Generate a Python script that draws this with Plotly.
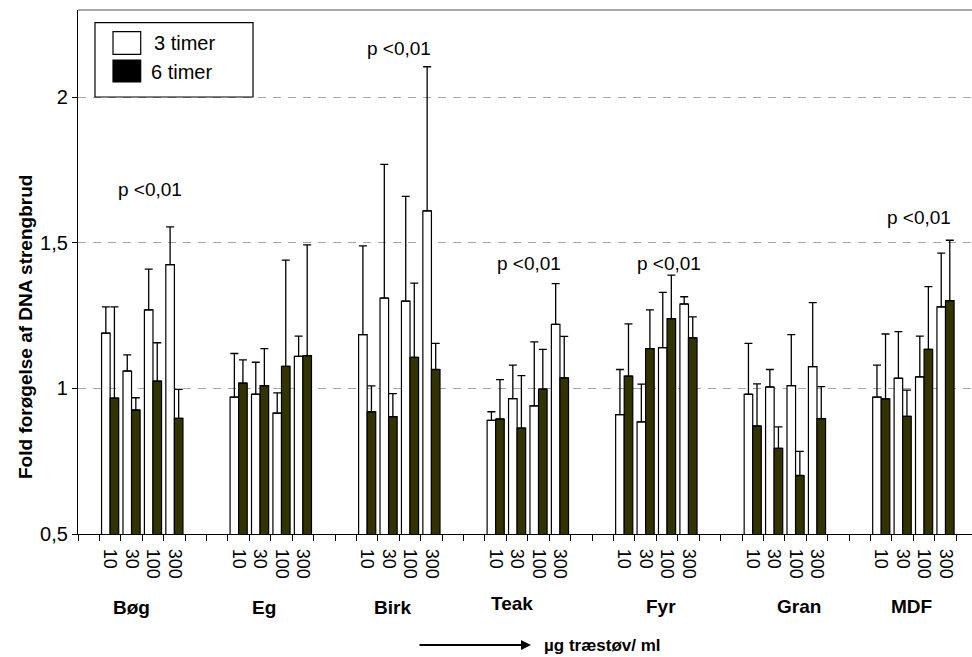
import plotly.graph_objects as go

# ---------------- data ----------------
woods = ["Bøg", "Eg", "Birk", "Teak", "Fyr", "Gran", "MDF"]
concs = ["10", "30", "100", "300"]

# 3 timer (white bars): mean fold increase and upper error
mean_3h = [1.19, 1.06, 1.27, 1.425,
           0.97, 0.98, 0.915, 1.11,
           1.185, 1.31, 1.30, 1.61,
           0.89, 0.965, 0.94, 1.22,
           0.91, 0.885, 1.14, 1.29,
           0.98, 1.005, 1.01, 1.075,
           0.97, 1.035, 1.04, 1.28]
err_3h = [0.09, 0.055, 0.14, 0.13,
          0.15, 0.11, 0.07, 0.07,
          0.305, 0.46, 0.36, 0.495,
          0.03, 0.115, 0.22, 0.14,
          0.155, 0.13, 0.19, 0.025,
          0.175, 0.06, 0.175, 0.22,
          0.11, 0.16, 0.14, 0.185]

# 6 timer (dark bars)
mean_6h = [0.967, 0.926, 1.025, 0.897,
           1.018, 1.01, 1.076, 1.113,
           0.92, 0.903, 1.107, 1.065,
           0.895, 0.864, 0.998, 1.036,
           1.042, 1.137, 1.24, 1.174,
           0.871, 0.794, 0.701, 0.896,
           0.964, 0.904, 1.134, 1.302]
err_6h = [0.313, 0.042, 0.132, 0.10,
          0.08, 0.127, 0.365, 0.38,
          0.089, 0.079, 0.255, 0.09,
          0.135, 0.18, 0.136, 0.143,
          0.18, 0.133, 0.149, 0.072,
          0.145, 0.074, 0.083, 0.11,
          0.223, 0.09, 0.216, 0.207]

y_ticks = [0.5, 1, 1.5, 2]
y_ticktext = ["0,5", "1", "1,5", "2"]

# significance labels: (wood, x position in category units, y value)
p_label = "p <0,01"
p_marks = [("Bøg", 3.36, 1.684), ("Birk", 14.99, 2.168), ("Teak", 21.05, 1.430),
           ("Fyr", 27.59, 1.430), ("MDF", 39.26, 1.588)]
# wood label placement (category units, paper y)
wood_label_x = [2.50, 8.67, 14.68, 20.28, 27.22, 33.66, 38.92]
wood_label_y = [-0.141, -0.141, -0.141, -0.132, -0.139, -0.139, -0.139]

# ---------------- layout helpers ----------------
# each wood has 4 concentration slots, separated by 2 empty slots, 1 leading slot
x_pos, x_lab = [], []
for g, w in enumerate(woods):
    for j, c in enumerate(concs):
        x_pos.append(1 + g * 6 + j + 0.5)
        x_lab.append(c)

FONT = "Liberation Sans, Arial, sans-serif"
DARK = "#333300"

fig = go.Figure()
fig.add_trace(go.Bar(
    x=x_pos, y=mean_3h, name="3 timer", offsetgroup="a",
    marker=dict(color="white", line=dict(color="black", width=1.2)),
    error_y=dict(type="data", array=err_3h, arrayminus=[0] * len(err_3h),
                 symmetric=False, color="black", thickness=1.3, width=4),
))
fig.add_trace(go.Bar(
    x=x_pos, y=mean_6h, name="6 timer", offsetgroup="b",
    marker=dict(color=DARK, line=dict(color="black", width=1.2)),
    error_y=dict(type="data", array=err_6h, arrayminus=[0] * len(err_6h),
                 symmetric=False, color="black", thickness=1.3, width=4),
))

# figure is a bit wider than the window so the plot runs off the right edge
W, H = 984, 657
L, T, B, R = 78, 10, 123, 0
xmax = (W - L - R) / 21.42

fig.update_layout(
    width=W, height=H,
    margin=dict(l=L, r=R, t=T, b=B, autoexpand=False),
    paper_bgcolor="white", plot_bgcolor="white",
    barmode="group", bargap=0.2, bargroupgap=0.0,
    showlegend=False,
    font=dict(family=FONT, size=18, color="black"),
)
fig.update_xaxes(
    range=[0, xmax], showgrid=False, zeroline=False,
    showline=True, linecolor="black", linewidth=1.3,
    tickmode="array", tickvals=x_pos, ticktext=x_lab, tickangle=90,
    ticks="outside", ticklen=10, tickcolor="rgba(0,0,0,0)",
    tickfont=dict(family=FONT, size=18, color="black"),
    minor=dict(tick0=0, dtick=1, ticks="outside", ticklen=6,
               tickcolor="black", tickwidth=1, showgrid=False),
)
fig.update_yaxes(
    range=[0.5, 2.3], tickmode="array", tickvals=y_ticks, ticktext=y_ticktext,
    showgrid=True, gridcolor="#a6a6a6", gridwidth=1, griddash="8px,7px",
    zeroline=False, showline=True, linecolor="black", linewidth=1.3,
    ticks="outside", ticklen=5, tickcolor="black",
    tickfont=dict(family=FONT, size=20, color="black"),
)

# top frame line (grey)
fig.add_shape(type="line", xref="paper", yref="paper", x0=0, x1=1, y0=1, y1=1,
              line=dict(color="#8c8c8c", width=1.3))

lx = lambda px: (px - L) / (W - L - R)
ly = lambda py: (534 - py) / 524

# y-axis title
fig.add_annotation(text="<b>Fold forøgelse af DNA strengbrud</b>", textangle=-90,
                   xref="paper", yref="paper", x=lx(25), y=ly(327),
                   xanchor="center", yanchor="middle", showarrow=False,
                   font=dict(family=FONT, size=19, color="black"))

# wood group labels
for w, xl, yl in zip(woods, wood_label_x, wood_label_y):
    fig.add_annotation(text=f"<b>{w}</b>", x=xl, y=yl, xref="x", yref="paper",
                       xanchor="center", yanchor="middle", showarrow=False,
                       font=dict(family=FONT, size=19, color="black"))

# significance labels
for w, xp, yp in p_marks:
    fig.add_annotation(text=p_label, x=xp, y=yp, xref="x", yref="y",
                       xanchor="center", yanchor="middle", showarrow=False,
                       font=dict(family=FONT, size=19, color="black"))

# concentration arrow and unit label
fig.add_annotation(text="", xref="paper", yref="paper",
                   x=lx(531), y=ly(645), ax=-113, ay=0,
                   axref="pixel", ayref="pixel",
                   showarrow=True, arrowhead=2, arrowsize=1, arrowwidth=2, arrowcolor="black")
fig.add_annotation(text="<b>µg træstøv/ ml</b>", xref="paper", yref="paper",
                   x=lx(542), y=ly(645),
                   xanchor="left", yanchor="middle", showarrow=False,
                   font=dict(family=FONT, size=17, color="black"))

# manual legend
fig.add_shape(type="rect", xref="paper", yref="paper",
              x0=lx(95), x1=lx(253), y0=ly(97), y1=ly(22.7),
              line=dict(color="black", width=1.2), fillcolor="white")
fig.add_shape(type="rect", xref="paper", yref="paper",
              x0=lx(113), x1=lx(140.7), y0=ly(54.3), y1=ly(31.7),
              line=dict(color="black", width=1.2), fillcolor="white")
fig.add_shape(type="rect", xref="paper", yref="paper",
              x0=lx(113), x1=lx(140.7), y0=ly(82), y1=ly(60),
              line=dict(color="black", width=1.2), fillcolor="black")
fig.add_annotation(text="3 timer", xref="paper", yref="paper", x=lx(152), y=ly(43),
                   xanchor="left", yanchor="middle", showarrow=False,
                   font=dict(family=FONT, size=20, color="black"))
fig.add_annotation(text="6 timer", xref="paper", yref="paper", x=lx(149), y=ly(72),
                   xanchor="left", yanchor="middle", showarrow=False,
                   font=dict(family=FONT, size=20, color="black"))

fig.write_html("out.html", config={"displayModeBar": False},
               post_script="document.body.style.margin='0';document.body.style.overflow='hidden';")
